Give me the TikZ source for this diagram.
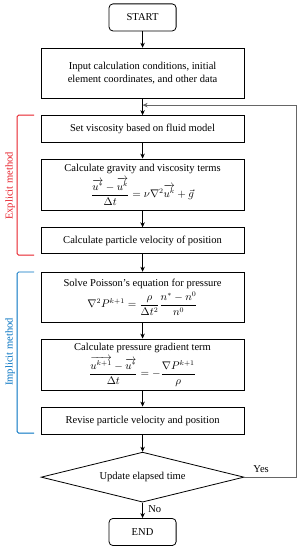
\documentclass[tikz,border=0pt]{standalone}
\usepackage{amsmath}
\usepackage{fontspec}
\setmainfont{Liberation Serif}
\usepackage{xcolor}
\definecolor{explred}{RGB}{230,30,40}
\definecolor{implblue}{RGB}{0,112,192}
\colorlet{loopgray}{gray!80!black}
\usepackage{tikz}
\usetikzlibrary{shapes.geometric,arrows.meta,positioning,calc}

\begin{document}
\begin{tikzpicture}[
  font=\fontsize{10.5}{12}\selectfont,
  term/.style={
    rectangle, rounded corners=4pt,
    minimum width=2.35cm, minimum height=0.95cm,
    draw=black, line width=0.8pt
  },
  proc/.style={
    rectangle,
    minimum width=7.1cm, minimum height=#1,
    text width=6.9cm, align=flush center, inner sep=1pt,
    draw=black, line width=0.8pt
  },
  proc/.default=0.95cm,
  decide/.style={
    diamond, aspect=4,
    minimum width=7.1cm, minimum height=1.75cm, inner sep=0pt,
    draw=black, line width=0.8pt
  },
  arr/.style={-{Stealth[length=5pt,width=4.5pt]}, line width=0.8pt},
  looparr/.style={-{Stealth[length=5pt,width=4.5pt]}, line width=0.8pt, color=loopgray},
  brace/.style={line width=0.8pt, rounded corners=1.5pt, color=#1}
]
\useasboundingbox (0,0) rectangle (10.5,-19.25);

\node[term] (start) at (4.99,-0.61) {START};
\node[proc=1.75cm] (input) at (4.99,-2.56) {Input calculation conditions, initial\\element coordinates, and other data};
\node[proc] (visc) at (4.99,-4.52) {Set viscosity based on fluid model};
\node[proc=1.79cm] (grav) at (4.99,-6.46) {Calculate gravity and viscosity terms\\[3pt]
  $\dfrac{\overrightarrow{u^{*}}-\overrightarrow{u^{k}}}{\Delta t}=\nu\nabla^{2}\overrightarrow{u^{k}}+\vec{g}$};
\node[proc=0.9cm] (vel) at (4.99,-8.42) {Calculate particle velocity of position};
\node[proc=1.75cm] (poisson) at (4.99,-10.40) {Solve Poisson's equation for pressure\\[2pt]
  $\nabla^{2}P^{k+1}=\dfrac{\rho}{\Delta t^{2}}\dfrac{n^{*}-n^{0}}{n^{0}}$};
\node[proc=1.79cm] (grad) at (4.99,-12.76) {Calculate pressure gradient term\\[3pt]
  $\dfrac{\overrightarrow{u^{k+1}}-\overrightarrow{u^{*}}}{\Delta t}=-\dfrac{\nabla P^{k+1}}{\rho}$};
\node[proc] (revise) at (4.99,-14.72) {Revise particle velocity and position};
\node[decide] (update) at (4.99,-16.70) {Update elapsed time};
\node[term] (end) at (4.99,-18.62) {END};

% explicit / implicit brackets
\draw[brace=explred] (1.19,-4.03) -- (0.60,-4.03) -- (0.60,-8.93) -- (1.19,-8.93);
\node[rotate=90, text=explred] (explabel) at (0.35,-6.51) {Explicit method};
\draw[brace=implblue] (1.19,-9.52) -- (0.60,-9.52) -- (0.60,-15.16) -- (1.19,-15.16);
\node[rotate=90, text=implblue] (impllabel) at (0.35,-12.32) {Implicit method};

\draw[arr] (start) -- (input);
\draw[arr] (input) -- (visc);
\draw[arr] (visc) -- (grav);
\draw[arr] (grav) -- (vel);
\draw[arr] (vel) -- (poisson);
\draw[arr] (poisson) -- (grad);
\draw[arr] (grad) -- (revise);
\draw[arr] (revise) -- (update);
\draw[arr] (update) -- node[right=2pt, pos=0.45] (nolabel) {No} (end);

\coordinate (loopRight) at (10.36,-16.70);
\coordinate (loopTop) at (10.36,-3.68);
\coordinate (loopIn) at (4.99,-3.68);
\draw[looparr] (update.east) -- (loopRight) -- (loopTop) -- (loopIn);
\node (yeslabel) at (9.14,-16.42) {Yes};
\end{tikzpicture}
\end{document}
